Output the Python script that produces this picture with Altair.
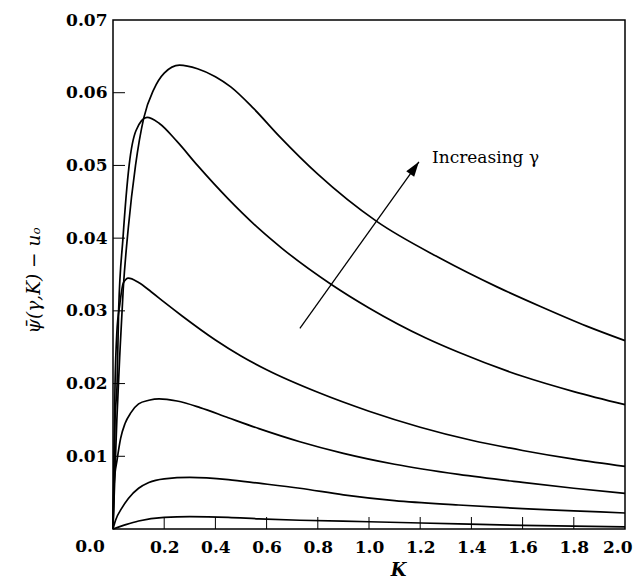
import altair as alt
import pandas as pd

# ---- data ----
A_x = [0, 0.008, 0.015, 0.028, 0.04, 0.06, 0.088, 0.12, 0.16, 0.2, 0.26, 0.33, 0.4, 0.46, 0.55, 0.65, 0.8, 1.03, 1.28, 1.5, 1.67, 1.85, 2.0]
A_y = [0, 0.008, 0.015, 0.025, 0.033, 0.0415, 0.050, 0.0565, 0.0605, 0.0627, 0.0638, 0.0633, 0.0622, 0.0608, 0.0578, 0.0540, 0.0488, 0.0423, 0.0372, 0.0333, 0.0306, 0.0279, 0.0259]

B_x = [0, 0.008, 0.016, 0.022, 0.039, 0.063, 0.09, 0.133, 0.18, 0.25, 0.33, 0.45, 0.57, 0.66, 0.85, 1.0, 1.22, 1.35, 1.6, 1.8, 2.0]
B_y = [0, 0.015, 0.020, 0.030, 0.040, 0.050, 0.0548, 0.0566, 0.0558, 0.0533, 0.0500, 0.0454, 0.0413, 0.0386, 0.0337, 0.0304, 0.0263, 0.0243, 0.0210, 0.0189, 0.0171]

C_x = [0, 0.008, 0.015, 0.027, 0.04, 0.06, 0.1, 0.15, 0.2, 0.27, 0.4, 0.5, 0.6, 0.8, 1.0, 1.2, 1.4, 1.6, 1.8, 2.0]
C_y = [0, 0.020, 0.027, 0.031, 0.0338, 0.0345, 0.0339, 0.0326, 0.0312, 0.0293, 0.0260, 0.0238, 0.0219, 0.0188, 0.0162, 0.0140, 0.0122, 0.0108, 0.0096, 0.0086]

D_x = [0, 0.005, 0.016, 0.03, 0.047, 0.07, 0.1, 0.14, 0.18, 0.25, 0.34, 0.45, 0.57, 0.73, 0.9, 1.1, 1.35, 1.6, 1.8, 2.0]
D_y = [0, 0.0065, 0.0095, 0.0125, 0.0145, 0.0160, 0.0172, 0.0177, 0.0179, 0.0176, 0.0167, 0.0153, 0.0138, 0.0120, 0.0104, 0.0089, 0.0075, 0.0064, 0.0056, 0.0049]

E_x = [0, 0.01, 0.035, 0.06, 0.1, 0.14, 0.2, 0.3, 0.45, 0.57, 0.73, 0.9, 1.1, 1.35, 1.6, 1.8, 2.0]
E_y = [0, 0.0012, 0.0029, 0.0042, 0.0056, 0.0064, 0.0069, 0.0071, 0.0068, 0.0063, 0.0056, 0.0047, 0.0039, 0.0033, 0.0028, 0.0025, 0.0022]

F_x = [0, 0.05, 0.1, 0.2, 0.3, 0.45, 0.57, 0.73, 1.0, 1.35, 1.6, 2.0]
F_y = [0, 0.0006, 0.0011, 0.0016, 0.0017, 0.0016, 0.0014, 0.0012, 0.0010, 0.0007, 0.0005, 0.0003]

X_TICKS = [0.2, 0.4, 0.6, 0.8, 1.0, 1.2, 1.4, 1.6, 1.8]
X_LABELS = [0.2, 0.4, 0.6, 0.8, 1.0, 1.2, 1.4, 1.6, 1.8, 2.0]
Y_TICKS = [0.01, 0.02, 0.03, 0.04, 0.05, 0.06]
Y_LABELS = [0.01, 0.02, 0.03, 0.04, 0.05, 0.06, 0.07]

ARROW_START = (0.73, 0.0276)
ARROW_END = (1.195, 0.0505)
ANNOT = (1.246, 0.0503, "Increasing γ")

# ---- build tables ----
rows = []
for name, xs, ys in [("A", A_x, A_y), ("B", B_x, B_y), ("C", C_x, C_y),
                     ("D", D_x, D_y), ("E", E_x, E_y), ("F", F_x, F_y)]:
    for i, (x, y) in enumerate(zip(xs, ys)):
        rows.append({"curve": name, "K": x, "psi": y, "order": i})
curves_df = pd.DataFrame(rows)

FONT = "DejaVu Serif"
xs = alt.Scale(domain=[0, 2], nice=False, zero=False)
ys = alt.Scale(domain=[0, 0.07], nice=False, zero=False)

x_axis = alt.Axis(values=X_LABELS, format=".1f", ticks=False, domain=False, grid=False,
                  labelFont=FONT, labelFontWeight="bold", labelFontSize=17, labelColor="black",
                  labelPadding=10, labelFlush=True, labelFlushOffset=7, labelOverlap=False,
                  title="K", titleFont=FONT, titleFontStyle="italic", titleFontWeight="bold",
                  titleFontSize=18, titleColor="black", titleX=285, titleY=46,
                  titleAlign="center", titleBaseline="alphabetic")
y_axis = alt.Axis(values=Y_LABELS, format=".2f", ticks=False, domain=False, grid=False,
                  labelFont=FONT, labelFontWeight="bold", labelFontSize=17, labelColor="black",
                  labelPadding=6, labelFlush=False, labelOverlap=False, labelBaseline="middle",
                  title="ψ̄(γ,K) − uₒ", titleFont=FONT, titleFontStyle="italic",
                  titleFontWeight="normal", titleFontSize=18.5, titleColor="black",
                  titleAngle=270, titleX=-80, titleY=260, titleAlign="center",
                  titleBaseline="middle")

curves = alt.Chart(curves_df).mark_line(color="black", strokeWidth=1.7, interpolate="monotone").encode(
    x=alt.X("K:Q", scale=xs, axis=x_axis),
    y=alt.Y("psi:Q", scale=ys, axis=y_axis),
    detail="curve:N",
    order="order:Q",
)

yt = alt.Chart(pd.DataFrame({"v": Y_TICKS})).mark_rule(color="black", strokeWidth=1).encode(
    y=alt.Y("v:Q", scale=ys), x=alt.value(0), x2=alt.value(12))
xt = alt.Chart(pd.DataFrame({"v": X_TICKS})).mark_rule(color="black", strokeWidth=1).encode(
    x=alt.X("v:Q", scale=xs), y=alt.value(509), y2=alt.value(497))

zero_lbl = alt.Chart(pd.DataFrame({"x": [0.0], "y": [0.0], "t": ["0.0"]})).mark_text(
    font=FONT, fontWeight="bold", fontSize=17, color="black", dx=-23, dy=10,
    baseline="top", align="center").encode(
    x=alt.X("x:Q", scale=xs), y=alt.Y("y:Q", scale=ys), text="t:N")

arrow_df = pd.DataFrame({"x": [ARROW_START[0]], "y": [ARROW_START[1]],
                         "x2": [ARROW_END[0]], "y2": [ARROW_END[1]]})
arrow_line = alt.Chart(arrow_df).mark_rule(color="black", strokeWidth=1.3).encode(
    x=alt.X("x:Q", scale=xs), y=alt.Y("y:Q", scale=ys), x2="x2:Q", y2="y2:Q")
arrow_head = alt.Chart(pd.DataFrame({"x": [ARROW_END[0]], "y": [ARROW_END[1]]})).mark_point(
    shape="M0,0L0.65,2L-0.65,2Z", filled=True, color="black", opacity=1, size=225,
    angle=35.5, strokeWidth=0).encode(
    x=alt.X("x:Q", scale=xs), y=alt.Y("y:Q", scale=ys))

annot = alt.Chart(pd.DataFrame({"x": [ANNOT[0]], "y": [ANNOT[1]], "t": [ANNOT[2]]})).mark_text(
    font=FONT, fontSize=17, color="black", align="left", baseline="alphabetic").encode(
    x=alt.X("x:Q", scale=xs), y=alt.Y("y:Q", scale=ys), text="t:N")

chart = alt.layer(curves, yt, xt, zero_lbl, arrow_line, arrow_head, annot).properties(
    width=512, height=509,
    padding={"left": 105, "top": 12, "right": 8, "bottom": 51},
    autosize=alt.AutoSizeParams(type="none"),
    background="white",
).configure_view(stroke="black", strokeWidth=1.5)

chart.save("out.html", embed_options={"renderer": "svg", "actions": False})
